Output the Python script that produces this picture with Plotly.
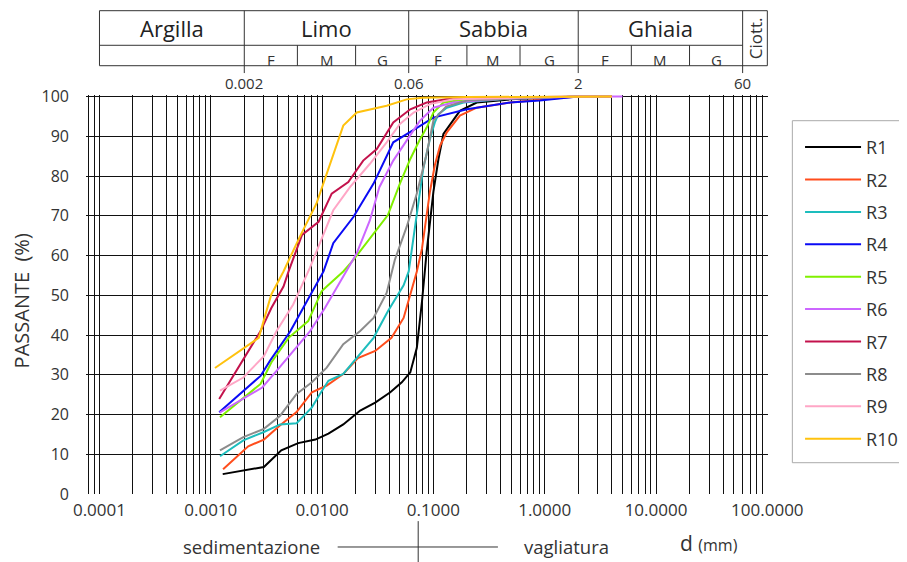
import numpy as np
import plotly.graph_objects as go

# ---------------- data ----------------
names = ["R1", "R2", "R3", "R4", "R5", "R6", "R7", "R8", "R9", "R10"]
colors = ["#000000", "#FF4D1C", "#1DBDBD", "#0A0AF5", "#80F000", "#CC66FF",
          "#C3124C", "#8C8C8C", "#FFA6C6", "#FFC20E"]

R1_d = [0.00128, 0.0030, 0.0043, 0.0061, 0.0087, 0.0114, 0.0155, 0.022, 0.030, 0.041, 0.052, 0.062,
        0.071, 0.079, 0.087, 0.100, 0.111, 0.123, 0.173, 0.245, 0.49, 1.0, 2.0, 4.0]
R1_p = [5.0, 6.8, 11.0, 12.8, 13.7, 15.2, 17.5, 21.0, 23.0, 25.6, 28.1, 30.6,
        36.8, 48.5, 61.0, 76.0, 84.3, 90.6, 96.4, 98.5, 99.3, 99.6, 100, 100]

R2_d = [0.00129, 0.00217, 0.0030, 0.0042, 0.0059, 0.0081, 0.011, 0.0155, 0.021, 0.030, 0.042, 0.054,
        0.062, 0.071, 0.079, 0.093, 0.103, 0.115, 0.132, 0.173, 0.245, 0.49, 1.0, 2.0, 4.0]
R2_p = [6.2, 12.0, 13.7, 17.3, 20.6, 25.6, 27.3, 30.2, 34.2, 36.0, 39.3, 44.3,
        50.2, 56.0, 61.8, 76.0, 82.7, 87.7, 91.0, 95.2, 97.2, 98.5, 99.3, 100, 100]

R3_d = [0.00121, 0.00196, 0.0030, 0.0042, 0.0059, 0.0081, 0.0096, 0.0114, 0.0155, 0.0205, 0.029, 0.039,
        0.054, 0.060, 0.071, 0.081, 0.093, 0.103, 0.111, 0.132, 0.186, 0.49, 1.0, 2.0, 4.0]
R3_p = [9.5, 13.5, 15.6, 17.5, 17.8, 21.8, 25.2, 28.5, 30.2, 34.2, 39.3, 46.0,
        52.5, 56.0, 70.2, 81.8, 89.3, 93.5, 95.6, 97.2, 98.5, 99.5, 99.7, 100, 100]

R4_d = [0.00119, 0.0028, 0.0034, 0.0052, 0.0073, 0.0103, 0.0126, 0.0191, 0.029, 0.0436, 0.0665, 0.100,
        0.20, 0.49, 0.90, 2.0, 4.0]
R4_p = [20.6, 29.7, 33.5, 41.0, 48.5, 56.0, 63.1, 69.7, 78.1, 88.5, 91.6, 94.7,
        96.8, 98.5, 99.0, 100, 100]

R5_d = [0.00121, 0.0028, 0.0035, 0.0050, 0.0075, 0.0099, 0.011, 0.0155, 0.0191, 0.029, 0.039, 0.050,
        0.062, 0.075, 0.087, 0.100, 0.123, 0.25, 1.0, 2.0, 4.0]
R5_p = [19.3, 27.7, 33.1, 39.3, 43.5, 51.0, 52.2, 56.0, 58.9, 65.6, 70.2, 78.1,
        84.3, 89.0, 92.2, 96.0, 98.5, 99.7, 99.9, 100, 100]

R6_d = [0.0012, 0.0029, 0.0039, 0.0055, 0.0078, 0.0106, 0.015, 0.0205, 0.0269, 0.0327, 0.0436, 0.0575,
        0.0755, 0.100, 0.15, 0.40, 1.0, 2.0, 5.0]
R6_p = [20.5, 26.8, 31.0, 36.0, 41.0, 46.8, 54.0, 60.6, 68.9, 77.2, 83.9, 88.9,
        93.9, 97.2, 98.5, 99.4, 99.7, 100, 100]

R7_d = [0.00119, 0.0028, 0.0035, 0.0045, 0.0050, 0.0066, 0.0093, 0.0122, 0.0172, 0.0234, 0.031, 0.0436,
        0.062, 0.087, 0.13, 0.30, 1.0, 2.0, 4.0]
R7_p = [23.9, 41.0, 46.8, 52.2, 56.0, 65.2, 68.5, 75.6, 78.5, 83.9, 86.8, 93.5,
        96.8, 98.5, 99.3, 99.7, 99.9, 100, 100]

R8_d = [0.00121, 0.00196, 0.0030, 0.0042, 0.0059, 0.0081, 0.011, 0.0155, 0.022, 0.029, 0.038, 0.045,
        0.0575, 0.071, 0.087, 0.100, 0.130, 0.20, 0.50, 1.0, 2.0, 4.0]
R8_p = [11.0, 14.3, 16.4, 19.7, 25.2, 28.1, 31.8, 37.7, 41.0, 44.3, 50.6, 58.9,
        67.2, 75.6, 85.6, 94.0, 97.5, 99.0, 99.5, 99.7, 100, 100]

R9_d = [0.00121, 0.00196, 0.0030, 0.0039, 0.0055, 0.0078, 0.0089, 0.0126, 0.0178, 0.0269, 0.038, 0.050,
        0.0665, 0.093, 0.15, 0.40, 1.0, 2.0, 4.0]
R9_p = [26.0, 29.3, 34.7, 41.0, 47.7, 57.0, 61.0, 71.4, 77.2, 83.1, 88.5, 93.1,
        96.0, 98.1, 99.3, 99.7, 99.9, 100, 100]

R10_d = [0.00109, 0.0027, 0.0031, 0.0035, 0.0045, 0.0063, 0.0089, 0.0126, 0.0155, 0.0205, 0.038, 0.0575,
         0.080, 0.20, 1.0, 2.0, 4.0]
R10_p = [31.7, 39.3, 45.2, 50.2, 56.0, 64.7, 73.1, 85.6, 92.7, 96.0, 97.7, 99.3,
         99.7, 99.9, 100, 100, 100]

series_d = [R1_d, R2_d, R3_d, R4_d, R5_d, R6_d, R7_d, R8_d, R9_d, R10_d]
series_p = [R1_p, R2_p, R3_p, R4_p, R5_p, R6_p, R7_p, R8_p, R9_p, R10_p]

x_tickvals = [0.0001, 0.001, 0.01, 0.1, 1, 10, 100]
x_ticktext = ["0.0001", "0.0010", "0.0100", "0.1000", "1.0000", "10.0000", "100.0000"]
y_tickvals = [0, 10, 20, 30, 40, 50, 60, 70, 80, 90, 100]

# classification header (limits in mm)
main_limits = [0.002, 0.06, 2, 60]
main_limit_labels = ["0.002", "0.06", "2", "60"]
sub_limits = [0.006, 0.02, 0.2, 0.6, 6, 20]
main_classes = ["Argilla", "Limo", "Sabbia", "Ghiaia"]
main_bounds = [(0.0001, 0.002), (0.002, 0.06), (0.06, 2), (2, 60)]
sub_classes = ["F", "M", "G", "F", "M", "G", "F", "M", "G"]
sub_bounds = [(0.002, 0.006), (0.006, 0.02), (0.02, 0.06), (0.06, 0.2), (0.2, 0.6), (0.6, 2),
              (2, 6), (6, 20), (20, 60)]
ciott_bounds = (60, 100)

FONT = "Open Sans, Noto Sans, sans-serif"
TXT = "#333333"
GRID = "#111111"

fig = go.Figure()
for i, nm in enumerate(names):
    fig.add_trace(go.Scatter(
        x=series_d[i], y=series_p[i], mode="lines", name=nm,
        legendgroup=nm,
        line=dict(color=colors[i], width=2),
    ))

# ---------------- header table (shapes in data-x / paper-y) ----------------
y_top, y_mid, y_bot, y_div = 1.2113, 1.1246, 1.0734, 1.055
hl = dict(color="#333333", width=1)
x_left, x_right = 0.0001, 100
shapes = []
shapes.append(dict(type="line", xref="x", yref="paper", x0=x_left, x1=x_right, y0=y_top, y1=y_top, line=hl))
shapes.append(dict(type="line", xref="x", yref="paper", x0=x_left, x1=60, y0=y_mid, y1=y_mid, line=hl))
shapes.append(dict(type="line", xref="x", yref="paper", x0=x_left, x1=x_right, y0=y_bot, y1=y_bot, line=hl))
shapes.append(dict(type="line", xref="x", yref="paper", x0=x_left, x1=x_left, y0=y_bot, y1=y_top, line=hl))
shapes.append(dict(type="line", xref="x", yref="paper", x0=x_right, x1=x_right, y0=y_bot, y1=y_top, line=hl))
for v in main_limits:
    shapes.append(dict(type="line", xref="x", yref="paper", x0=v, x1=v, y0=y_div, y1=y_top, line=hl))
for v in sub_limits:
    shapes.append(dict(type="line", xref="x", yref="paper", x0=v, x1=v, y0=y_bot, y1=y_mid, line=hl))

# legend frame
shapes.append(dict(type="rect", xref="paper", yref="paper", x0=1.0357, x1=1.25, y0=0.0784, y1=0.9356,
                   line=dict(color="#AAAAAA", width=1), fillcolor="rgba(255,255,255,0)"))

# sedimentazione / vagliatura separator
shapes.append(dict(type="line", xref="paper", yref="paper", x0=0.369, x1=0.604, y0=-0.1328, y1=-0.1328,
                   line=dict(color="#333333", width=1)))
shapes.append(dict(type="line", xref="x", yref="paper", x0=0.073, x1=0.073, y0=-0.068, y1=-0.175,
                   line=dict(color="#333333", width=1)))

annotations = []
lg = np.log10


def ann(**kw):
    kw.setdefault("xanchor", "center")
    kw.setdefault("yanchor", "middle")
    kw.setdefault("showarrow", False)
    annotations.append(kw)


for name, (a, b) in zip(main_classes, main_bounds):
    ann(x=(lg(a) + lg(b)) / 2, y=1.167, xref="x", yref="paper", text=name,
        font=dict(family=FONT, size=22, color="#222222"))
for name, (a, b) in zip(sub_classes, sub_bounds):
    ann(x=(lg(a) + lg(b)) / 2, y=1.087, xref="x", yref="paper", text=name,
        font=dict(family=FONT, size=15, color="#333333"))
ann(x=(lg(ciott_bounds[0]) + lg(ciott_bounds[1])) / 2, y=1.142, xref="x", yref="paper",
    text="Ciott.", textangle=-90, font=dict(family=FONT, size=17, color="#333333"))
for v, t in zip(main_limits, main_limit_labels):
    ann(x=lg(v), y=1.029, xref="x", yref="paper", text=t,
        font=dict(family=FONT, size=15, color="#333333"))

ann(x=-0.094, y=0.485, xref="paper", yref="paper", text="PASSANTE  (%)",
    textangle=-90, font=dict(family=FONT, size=20, color="#333333"))
ann(x=0.242, y=-0.1328, xref="paper", yref="paper", text="sedimentazione",
    font=dict(family=FONT, size=18.5, color="#333333"))
ann(x=0.704, y=-0.1328, xref="paper", yref="paper", text="vagliatura",
    font=dict(family=FONT, size=18.5, color="#333333"))
ann(x=0.913, y=-0.124, xref="paper", yref="paper",
    text="d <span style='font-size:16px'>(mm)</span>",
    font=dict(family=FONT, size=21, color="#333333"))

fig.update_layout(
    width=899, height=554,
    margin=dict(l=78, r=139, t=87, b=68, autoexpand=False),
    paper_bgcolor="white", plot_bgcolor="white",
    font=dict(family=FONT, size=16, color=TXT),
    showlegend=True,
    legend=dict(x=1.047, y=0.915, xanchor="left", yanchor="top",
                bgcolor="rgba(0,0,0,0)", borderwidth=0,
                font=dict(family=FONT, size=18, color=TXT),
                tracegroupgap=6, itemwidth=56),
    shapes=shapes,
    annotations=annotations,
)
fig.update_xaxes(
    type="log", range=[-4.121, 2.006],
    tickmode="array", tickvals=x_tickvals, ticktext=x_ticktext,
    showgrid=True, gridcolor=GRID, gridwidth=1,
    minor=dict(dtick="D1", showgrid=True, gridcolor=GRID, gridwidth=1),
    showline=False, zeroline=False, ticks="",
    ticklabelstandoff=4,
    tickfont=dict(family=FONT, size=17, color=TXT),
)
fig.update_yaxes(
    range=[0, 100.4], tickmode="array", tickvals=y_tickvals,
    showgrid=True, gridcolor=GRID, gridwidth=1,
    showline=False, zeroline=False, ticks="",
    ticklabelstandoff=16,
    tickfont=dict(family=FONT, size=16, color=TXT),
)

fig.write_html("out.html")
